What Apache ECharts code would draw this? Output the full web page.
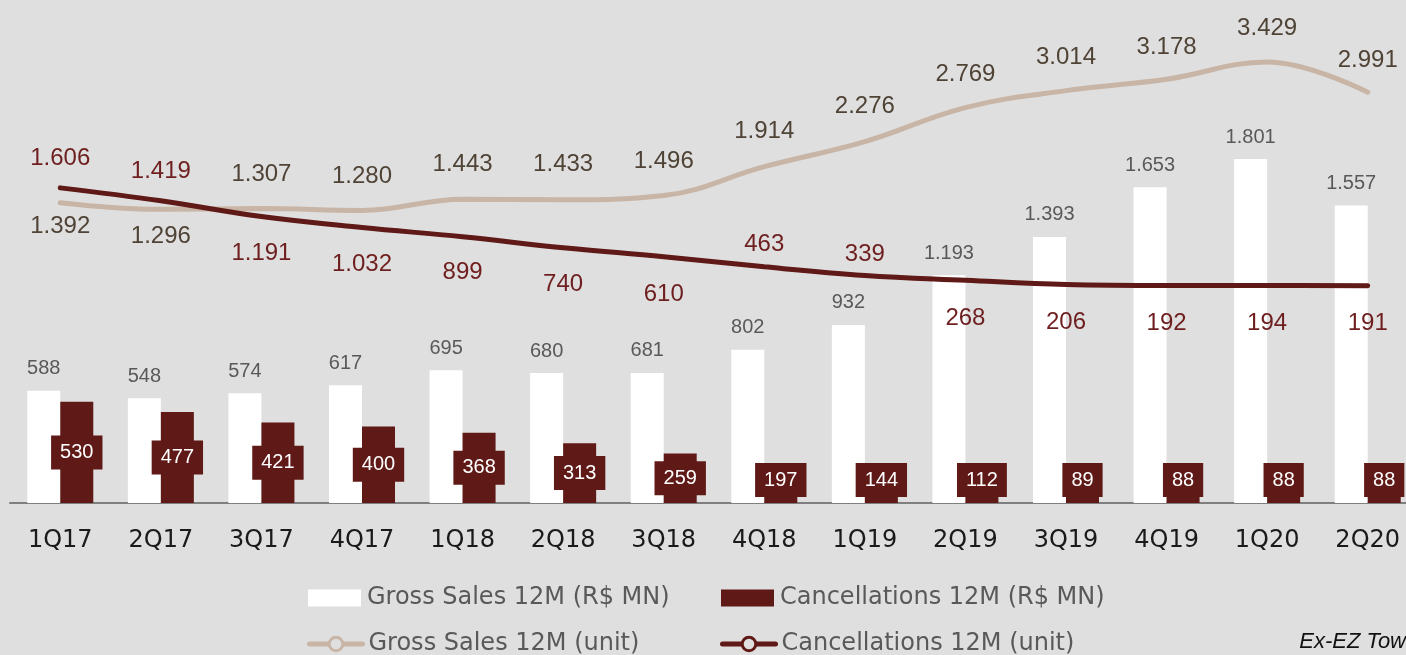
<!DOCTYPE html>
<html>
<head>
<meta charset="utf-8">
<script src="https://cdn.jsdelivr.net/npm/echarts@6/dist/echarts.min.js"></script>
<style>
html,body{margin:0;padding:0;background:#dfdfdf;}
#chart{width:1406px;height:655px;}
</style>
</head>
<body>
<div id="chart"></div>
<script>
const categories = ['1Q17','2Q17','3Q17','4Q17','1Q18','2Q18','3Q18','4Q18','1Q19','2Q19','3Q19','4Q19','1Q20','2Q20'];
const grossSalesMN = [588,548,574,617,695,680,681,802,932,1193,1393,1653,1801,1557];
const cancellationsMN = [530,477,421,400,368,313,259,197,144,112,89,88,88,88];
const grossSalesUnit = [1392,1296,1307,1280,1443,1433,1496,1914,2276,2769,3014,3178,3429,2991];
const cancellationsUnit = [1606,1419,1191,1032,899,740,610,463,339,268,206,192,194,191];

// label placement (vertical offset of label centre from the line point, px)
const grossLabelDy = [24,27,-34,-34,-35,-35,-34,-35,-35,-33,-33,-32,-34,-32];
const cancelLabelDy = [-30,-29,37,37,36,37,38,-22,-21,38,38,38,38,38];

const FONT = 'Liberation Sans';
const WIDE = 'DejaVu Sans';
const DARK = '#5f1916';
const BEIGE = '#c8b5a6';
const BG = '#dfdfdf';

function fmt(v){ return String(v).replace(/\B(?=(\d{3})+(?!\d))/g,'.'); }

const chart = echarts.init(document.getElementById('chart'), null, {renderer:'canvas'});

const cancelBarData = cancellationsMN.map(v => {
  const mid = 503 - v * 0.191 / 2;
  if (mid <= 479) return v;
  return {value: v, label: {position: 'insideBottom', distance: 6}};
});

const legendBase = {
  orient: 'horizontal',
  itemWidth: 53,
  itemHeight: 17,
  itemGap: 0,
  padding: 0,
  textStyle: {color: '#595959', fontSize: 24, fontFamily: WIDE, padding: [0,0,0,1]}
};

const option = {
  backgroundColor: BG,
  animation: false,
  grid: {left: 10, top: 40, width: 1408, height: 463, containLabel: false, outerBoundsMode: 'none'},
  xAxis: {
    type: 'category',
    data: categories,
    boundaryGap: true,
    axisLine: {lineStyle: {color: '#7f7f7f', width: 2}},
    axisTick: {show: false},
    axisLabel: {color: '#1a1a1a', fontSize: 24, fontFamily: WIDE, margin: 26, interval: 0},
    splitLine: {show: false}
  },
  yAxis: [
    {type: 'value', min: 0, max: 2424, show: false, splitLine: {show: false}},
    {type: 'value', min: -2956, max: 3747, show: false, splitLine: {show: false}}
  ],
  legend: [
    Object.assign({}, legendBase, {left: 308, top: 586, data: [{name: 'Gross Sales 12M (R$ MN)', icon: 'rect'}]}),
    Object.assign({}, legendBase, {left: 721, top: 586, data: [{name: 'Cancellations 12M (R$ MN)', icon: 'rect'}]}),
    Object.assign({}, legendBase, {left: 307, top: 632, data: [{name: 'Gross Sales 12M (unit)',
      lineStyle: {width: 5, color: BEIGE}, itemStyle: {color: BG, borderColor: BEIGE, borderWidth: 3}}]}),
    Object.assign({}, legendBase, {left: 720, top: 632, data: [{name: 'Cancellations 12M (unit)',
      lineStyle: {width: 5, color: DARK}, itemStyle: {color: BG, borderColor: DARK, borderWidth: 3}}]})
  ],
  graphic: [{
    type: 'text',
    right: 0,
    top: 631,
    style: {text: 'Ex-EZ Tow', font: 'italic 22px "Liberation Sans"', fill: '#111'}
  }],
  series: [
    {
      name: 'Gross Sales 12M (R$ MN)',
      type: 'bar',
      yAxisIndex: 0,
      data: grossSalesMN,
      barWidth: 33,
      barGap: '0%',
      itemStyle: {color: '#ffffff'},
      label: {show: true, position: 'top', distance: 12, color: '#595959', fontSize: 20, fontFamily: FONT, formatter: p => fmt(p.value)},
      z: 2
    },
    {
      name: 'Cancellations 12M (R$ MN)',
      type: 'bar',
      yAxisIndex: 0,
      data: cancelBarData,
      barWidth: 33,
      barGap: '0%',
      itemStyle: {color: DARK},
      label: {show: true, position: 'inside', color: '#ffffff', fontSize: 20, fontFamily: FONT,
        backgroundColor: DARK, padding: [7,9,7,9], formatter: p => fmt(p.value)},
      z: 3
    },
    {
      name: 'Gross Sales 12M (unit)',
      type: 'line',
      yAxisIndex: 1,
      data: grossSalesUnit.map((v,i) => ({value: v, label: {offset: [0, grossLabelDy[i]]}})),
      smooth: 0.4,
      symbol: 'circle',
      symbolSize: 1,
      showSymbol: true,
      lineStyle: {color: BEIGE, width: 5, cap: 'round'},
      itemStyle: {color: BEIGE},
      label: {show: true, position: 'inside', color: '#4f4336', fontSize: 24, fontFamily: FONT, formatter: p => fmt(p.value)},
      z: 4
    },
    {
      name: 'Cancellations 12M (unit)',
      type: 'line',
      yAxisIndex: 1,
      data: cancellationsUnit.map((v,i) => ({value: v, label: {offset: [0, cancelLabelDy[i]]}})),
      smooth: 0.4,
      symbol: 'circle',
      symbolSize: 1,
      showSymbol: true,
      lineStyle: {color: DARK, width: 5, cap: 'round'},
      itemStyle: {color: DARK},
      label: {show: true, position: 'inside', color: '#6e1e1e', fontSize: 24, fontFamily: FONT, formatter: p => fmt(p.value)},
      z: 5
    }
  ]
};
chart.setOption(option);
</script>
</body>
</html>
